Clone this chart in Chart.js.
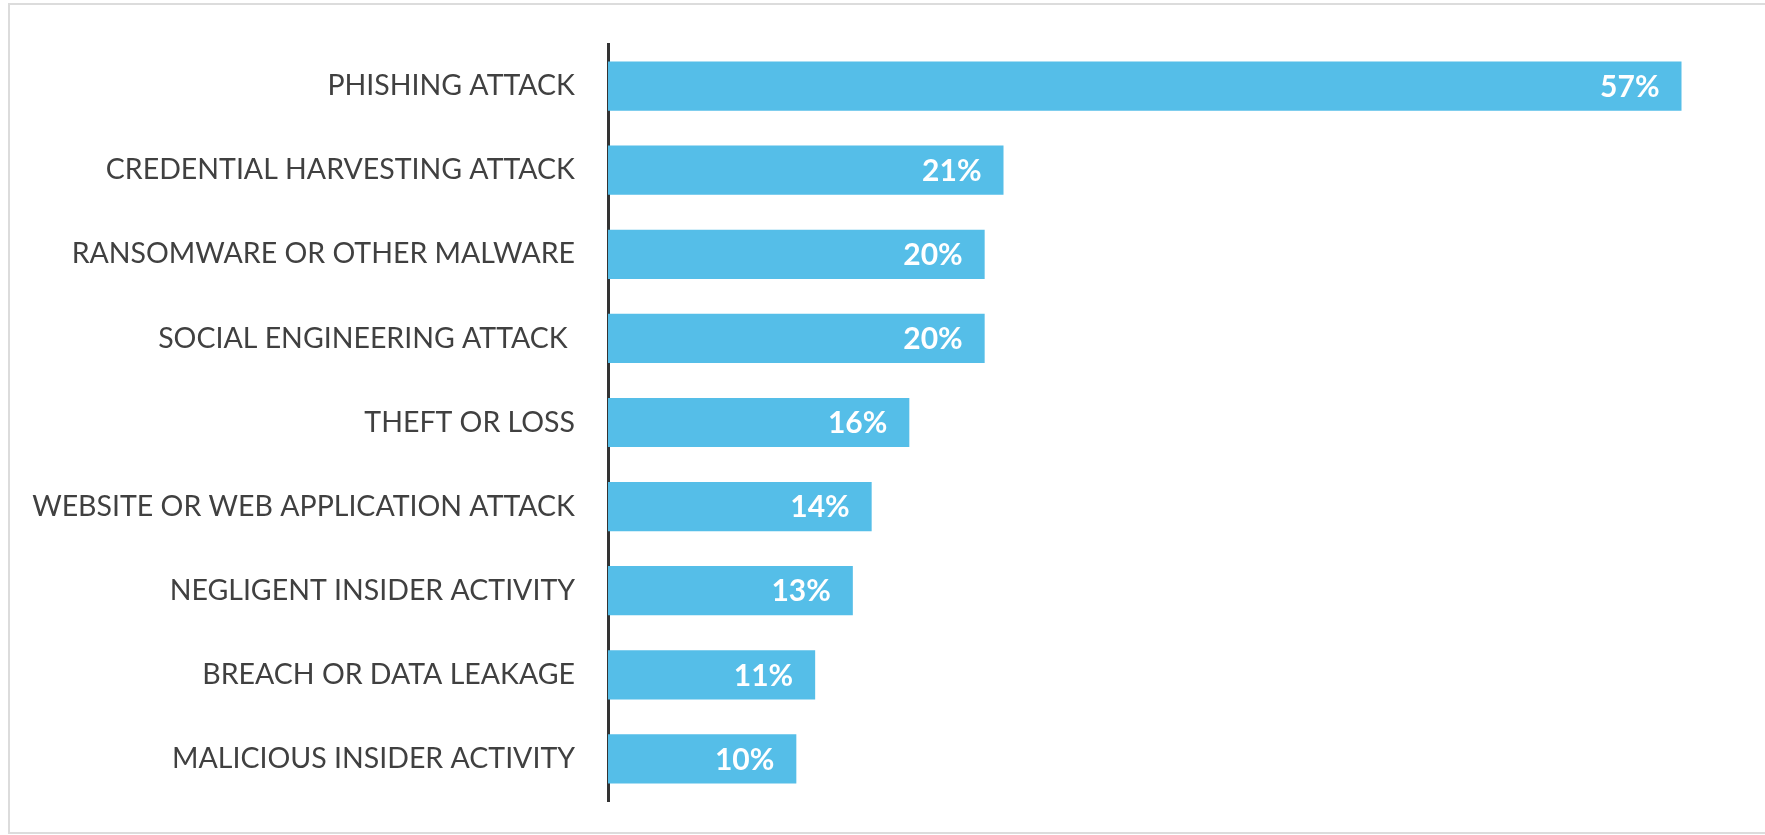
<!DOCTYPE html>
<html>
<head>
<meta charset="utf-8">
<script src="https://cdn.jsdelivr.net/npm/chart.js@4.4.1/dist/chart.umd.min.js"></script>
<style>
  html, body { margin: 0; padding: 0; background: #fff; overflow: hidden; }
  .frame {
    position: absolute; left: 8px; top: 3px; width: 1800px; height: 831px;
    border: 2px solid #dcdcdc; box-sizing: border-box;
  }
  #wrap { position: absolute; left: 0; top: 0; width: 1765px; height: 835px; }
</style>
</head>
<body>
<div class="frame"></div>
<div id="wrap"><canvas id="attacks"></canvas></div>
<script>
  const categories = [
    "PHISHING ATTACK",
    "CREDENTIAL HARVESTING ATTACK",
    "RANSOMWARE OR OTHER MALWARE",
    "SOCIAL ENGINEERING ATTACK ",
    "THEFT OR LOSS",
    "WEBSITE OR WEB APPLICATION ATTACK",
    "NEGLIGENT INSIDER ACTIVITY",
    "BREACH OR DATA LEAKAGE",
    "MALICIOUS INSIDER ACTIVITY",
  ];
  const shares = [57, 21, 20, 20, 16, 14, 13, 11, 10];

  const barColor = "#55bee8";

  // white value labels, right-aligned inside the end of each bar
  const valueLabels = {
    id: "valueLabels",
    afterDatasetsDraw(chart) {
      const { ctx } = chart;
      const meta = chart.getDatasetMeta(0);
      ctx.save();
      ctx.font = "bold 30px Lato";
      ctx.fillStyle = "#ffffff";
      ctx.textAlign = "right";
      ctx.textBaseline = "middle";
      meta.data.forEach((bar, i) => {
        ctx.fillText(shares[i] + "%", bar.x - 22, bar.y + 1);
      });
      ctx.restore();
    },
  };

  function draw() {
    Chart.defaults.font.family = "Lato";

    new Chart(document.getElementById("attacks"), {
      type: "bar",
      data: {
        labels: categories,
        datasets: [
          {
            data: shares,
            backgroundColor: barColor,
            borderWidth: 0,
            barPercentage: 0.585,
            categoryPercentage: 1,
          },
        ],
      },
      plugins: [valueLabels],
      options: {
        indexAxis: "y",
        responsive: true,
        maintainAspectRatio: false,
        animation: false,
        layout: {
          padding: { left: 0, right: 27, top: 44, bottom: 34 },
        },
        plugins: {
          legend: { display: false },
          tooltip: { enabled: false },
        },
        scales: {
          x: {
            min: 0,
            max: 60,
            display: false,
          },
          y: {
            afterFit(scale) {
              // fixed label column; let layout padding alone set the plot height
              scale.width = 608;
              scale.paddingTop = 0;
              scale.paddingBottom = 0;
            },
            grid: { display: false, drawTicks: false },
            border: { display: true, color: "#333333", width: 3 },
            ticks: {
              padding: 33,
              color: "#404040",
              font: { size: 28.5 },
            },
          },
        },
      },
    });
  }

  document.fonts.load("28px Lato").then(() => document.fonts.load("bold 30px Lato")).then(draw, draw);
</script>
</body>
</html>
